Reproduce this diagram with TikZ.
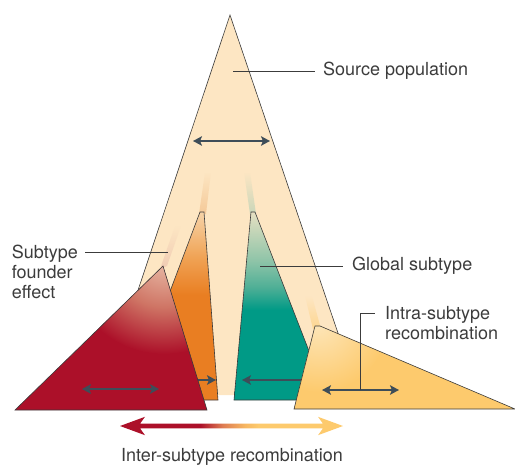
\documentclass[tikz,border=0pt]{standalone}
\usepackage{fontspec}
\setmainfont{TeX Gyre Heros}
\usetikzlibrary{arrows.meta,fadings,calc}
\definecolor{beige}{HTML}{FDE6C3}
\definecolor{orangec}{HTML}{E97E22}
\definecolor{orangemid}{HTML}{F0A355}
\definecolor{orangepale}{HTML}{F6D3A8}
\definecolor{tealc}{HTML}{009A86}
\definecolor{tealmid}{HTML}{8EC4A8}
\definecolor{tealmid2}{HTML}{4FAF96}
\definecolor{tealpale}{HTML}{E6E0C2}
\definecolor{crimson}{HTML}{AC1029}
\definecolor{redmid}{HTML}{CF7565}
\definecolor{redpale}{HTML}{EBC2AE}
\definecolor{yellowc}{HTML}{FDCA6D}
\definecolor{yellowpale}{HTML}{FDE6BA}
\definecolor{salmon}{HTML}{DE7C52}
\definecolor{arrowgrey}{HTML}{3E4D58}
\definecolor{textgrey}{HTML}{3C3C3C}
\definecolor{outlinegrey}{HTML}{3A3A3A}
\pgfdeclareverticalshading{orangeshade}{100bp}{color(0bp)=(orangec); color(25bp)=(orangec); color(53bp)=(orangec); color(63bp)=(orangemid); color(75bp)=(orangepale); color(100bp)=(orangepale)}
\pgfdeclareverticalshading{tealshade}{100bp}{color(0bp)=(tealc); color(25bp)=(tealc); color(49bp)=(tealc); color(55bp)=(tealmid2); color(62bp)=(tealmid); color(75bp)=(tealpale); color(100bp)=(tealpale)}
\pgfdeclareradialshading{redglow}{\pgfpointorigin}{color(0bp)=(redpale); color(13bp)=(redmid); color(25bp)=(crimson); color(50bp)=(crimson)}
\pgfdeclareradialshading{yellowglow}{\pgfpointorigin}{color(0bp)=(yellowpale); color(25bp)=(yellowc); color(50bp)=(yellowc)}
\pgfdeclarehorizontalshading{intershade}{100bp}{color(0bp)=(crimson); color(43bp)=(crimson); color(48bp)=(salmon); color(53bp)=(orangemid!50!yellowc); color(56bp)=(yellowc); color(100bp)=(yellowc)}
\tikzset{
  outline/.style={draw=outlinegrey, line width=0.6pt, line join=miter},
  dblarrow/.style={draw=arrowgrey, line width=2.5pt, {Stealth[length=9pt,width=9.5pt,inset=2pt]}-{Stealth[length=9pt,width=9.5pt,inset=2pt]}},
  lbl/.style={anchor=west, font=\fontsize{18}{20}\selectfont, text=textgrey, inner ysep=0pt, inner xsep=8pt, align=left},
  lead/.style={draw=textgrey, line width=0.7pt},
  streak/.style={path fading=north, fill opacity=0.9}
}
\begin{document}
\begin{tikzpicture}[x=1pt,y=-1pt]
\useasboundingbox (0,0) rectangle (515,466);
% source population
\fill[beige] (230,15) -- (359,395) -- (103,395) -- cycle;
\draw[outline] (103,395) -- (230,15) -- (359,395);
% streaks above the subtypes
\fill[orangepale!85!orangec, streak] (199,214) -- (206,214) -- (211,172) -- (205,172) -- cycle;
\fill[tealpale!85!tealc, streak] (250,214) -- (256,214) -- (250,172) -- (244,172) -- cycle;
\fill[redpale!80!beige, streak] (160,269) -- (167,266) -- (181,226) -- (175,226) -- cycle;
\fill[yellowpale!40!yellowc, streak] (313,329) -- (321,329) -- (312,296) -- (305,296) -- cycle;
% orange subtype
\shade[shading=orangeshade] (200,212) -- (204,212) -- (218,400) -- (129,400) -- cycle;
\draw[outline] (129,400) -- (200,212) -- (204,212) -- (218,400) -- cycle;
% teal subtype
\shade[shading=tealshade] (251,212) -- (255,212) -- (328,400) -- (234,400) -- cycle;
\draw[outline] (234,400) -- (251,212) -- (255,212) -- (328,400) -- cycle;
% hidden-end arrows
\coordinate (or-l) at (180,380); \coordinate (or-r) at (216,380);
\draw[dblarrow] (or-l) -- (or-r);
\coordinate (te-l) at (242,380); \coordinate (te-r) at (322,380);
\draw[dblarrow] (te-l) -- (te-r);
% red triangle
\begin{scope}
\clip (163,266) -- (207,410) -- (15,410) -- cycle;
\fill[crimson] (0,250) rectangle (220,420);
\shade[shading=redglow] (164,256) circle (98);
\end{scope}
\draw[outline] (163,266) -- (207,410) -- (15,410) -- cycle;
\coordinate (rd-l) at (82,389); \coordinate (rd-r) at (159,389);
\draw[dblarrow] (rd-l) -- (rd-r);
% yellow triangle
\begin{scope}
\clip (315,326) -- (320,326) -- (515,409) -- (294,409) -- cycle;
\fill[yellowc] (280,300) rectangle (515,420);
\shade[shading=yellowglow] (318,322) circle (70);
\end{scope}
\draw[outline] (315,326) -- (320,326) -- (515,409) -- (294,409) -- cycle;
\coordinate (ye-l) at (322,390); \coordinate (ye-r) at (399,390);
\draw[dblarrow] (ye-l) -- (ye-r);
% source arrow
\coordinate (sp-l) at (193,141); \coordinate (sp-r) at (270,141);
\draw[dblarrow] (sp-l) -- (sp-r);
% labels
\node[lbl] (src) at (315,71) {Source population};
\coordinate (src-pt) at (233,71);
\draw[lead] (src-pt) -- (src.west);
\node[lbl, inner xsep=9pt] (glob) at (343,266) {Global subtype};
\coordinate (glob-pt) at (260,266);
\draw[lead] (glob-pt) -- (glob.west);
\node[lbl, anchor=east, inner xsep=7pt] (found) at (85,272) {Subtype\\founder\\effect};
\coordinate (found-pt) at (168,252);
\draw[lead] (found-pt) -- (found-pt -| found.east);
\node[lbl, inner xsep=10pt] (intra) at (375,323) {Intra-subtype\\recombination};
\coordinate (intra-pt) at ($(ye-l)!0.5!(ye-r)$);
\draw[lead] (intra-pt) |- ($(intra.west)+(0,-10)$);
% inter-subtype arrow
\shade[shading=intershade] (120,426) -- (145,416.8) -- (140,423.7) -- (323,423.7) -- (318,416.8) -- (343,426) -- (318,435.2) -- (323,428.3) -- (140,428.3) -- (145,435.2) -- cycle;
\node[font=\fontsize{18}{20}\selectfont, text=textgrey, inner sep=0pt] (inter) at (232,457) {Inter-subtype recombination};
\end{tikzpicture}
\end{document}
